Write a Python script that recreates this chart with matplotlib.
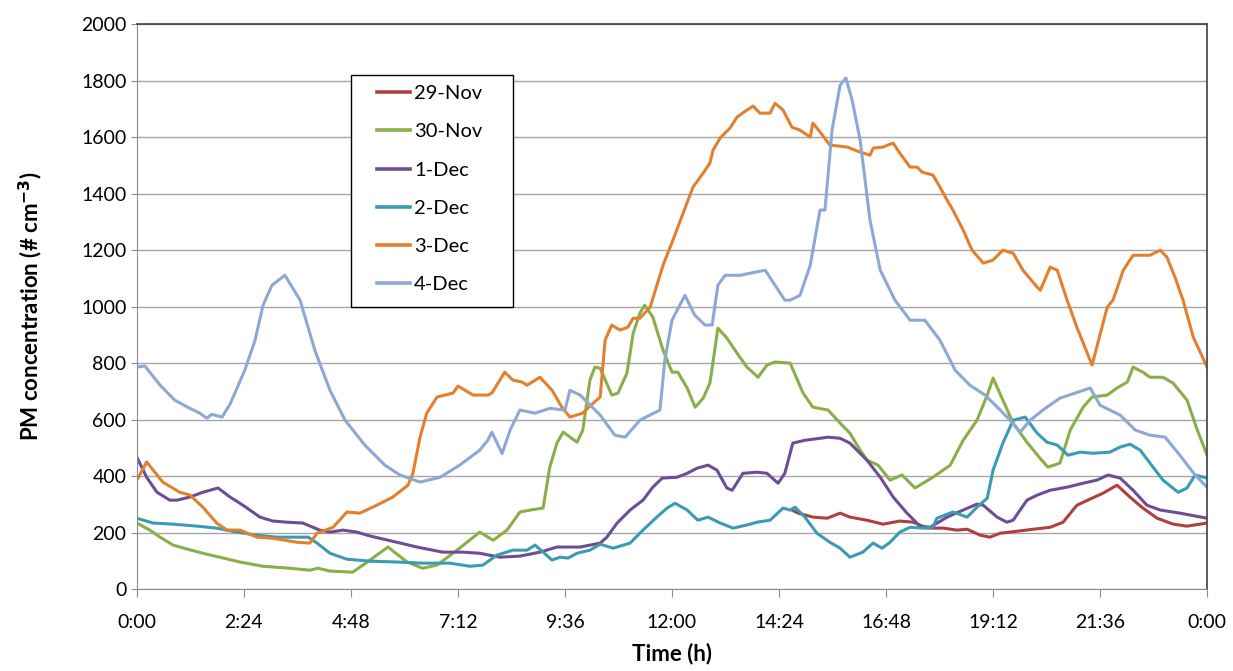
import matplotlib
matplotlib.use("Agg")
import matplotlib.pyplot as plt
from matplotlib.patches import Rectangle
from matplotlib.ticker import MultipleLocator

plt.rcParams['font.family'] = ['Lato', 'DejaVu Sans']

# time of day in hours, PM concentration in # cm-3
t_29nov = [14.69, 14.83, 15.16, 15.48, 15.77, 15.99, 16.37, 16.73, 17.11, 17.41, 17.72,
           18.08, 18.39, 18.62, 18.91, 19.13, 19.36, 19.74, 20.10, 20.48, 20.77, 21.08,
           21.38, 21.67, 21.98, 22.27, 22.56, 22.88, 23.24, 23.55, 24.00]
pm_29nov = [280, 269, 255, 251, 269, 255, 244, 230, 241, 237, 216,
            216, 209, 212, 191, 184, 198, 205, 212, 219, 237, 297,
            319, 340, 368, 326, 287, 251, 230, 223, 234]

t_30nov = [0.00, 0.29, 0.52, 0.81, 1.12, 1.48, 1.86, 2.31, 2.83, 3.43, 3.88, 4.06, 4.33,
           4.84, 5.23, 5.63, 6.06, 6.41, 6.73, 7.18, 7.69, 7.99, 8.30, 8.59, 8.82, 9.11,
           9.26, 9.42, 9.56, 9.87, 10.00, 10.16, 10.27, 10.39, 10.65, 10.79, 10.99, 11.13,
           11.28, 11.39, 11.57, 11.80, 12.00, 12.13, 12.34, 12.52, 12.70, 12.85, 13.03,
           13.23, 13.46, 13.68, 13.93, 14.13, 14.31, 14.65, 14.94, 15.16, 15.50, 15.77,
           15.99, 16.22, 16.37, 16.62, 16.89, 17.16, 17.45, 17.85, 18.24, 18.53, 18.84,
           19.07, 19.20, 19.42, 19.65, 19.96, 20.25, 20.43, 20.70, 20.93, 21.22, 21.42,
           21.76, 21.98, 22.21, 22.34, 22.56, 22.72, 23.01, 23.24, 23.55, 23.78, 24.00]
pm_30nov = [234, 209, 184, 156, 142, 127, 113, 96, 81, 74, 67, 74, 64,
            60, 103, 149, 96, 74, 85, 138, 202, 173, 209, 273, 280, 287,
            432, 517, 556, 520, 563, 740, 786, 782, 687, 694, 765, 906,
            977, 1005, 963, 846, 768, 768, 712, 644, 676, 729, 924,
            889, 835, 786, 750, 793, 804, 800, 694, 644, 634, 588,
            552, 492, 457, 439, 386, 404, 358, 396, 439, 527, 598,
            687, 747, 669, 588, 520, 464, 432, 446, 563, 644, 680,
            687, 712, 733, 786, 768, 750, 750, 729, 669, 563, 474]

t_1dec = [0.00, 0.22, 0.45, 0.74, 0.90, 1.19, 1.48, 1.82, 2.09, 2.38, 2.76, 3.05, 3.36,
          3.72, 4.10, 4.33, 4.62, 4.93, 5.23, 5.83, 6.28, 6.86, 7.31, 7.69, 8.14, 8.59,
          9.04, 9.42, 9.94, 10.39, 10.54, 10.77, 11.06, 11.35, 11.57, 11.78, 12.11, 12.34,
          12.56, 12.81, 13.01, 13.23, 13.35, 13.59, 13.91, 14.13, 14.38, 14.53, 14.71,
          14.98, 15.32, 15.50, 15.77, 15.99, 16.37, 16.67, 16.96, 17.27, 17.56, 17.79,
          18.17, 18.53, 18.84, 18.98, 19.29, 19.51, 19.65, 19.96, 20.19, 20.48, 20.86,
          21.22, 21.53, 21.78, 22.05, 22.34, 22.65, 22.95, 23.39, 24.00]
pm_1dec = [467, 396, 343, 315, 315, 326, 343, 358, 326, 297, 255, 241, 237,
           234, 209, 202, 209, 202, 188, 166, 149, 131, 131, 127, 113, 117,
           131, 149, 149, 163, 184, 234, 280, 315, 361, 393, 396, 410,
           428, 439, 421, 358, 350, 410, 414, 410, 375, 410, 517,
           527, 534, 538, 534, 517, 457, 396, 326, 269, 223, 219,
           255, 280, 301, 297, 255, 237, 244, 315, 333, 350, 361,
           375, 386, 404, 393, 350, 297, 280, 269, 251]

t_2dec = [0.00, 0.36, 0.81, 1.35, 1.79, 2.24, 2.69, 3.14, 3.59, 3.84, 4.04, 4.33, 4.71,
          5.23, 5.83, 6.41, 7.02, 7.47, 7.76, 8.07, 8.43, 8.75, 8.93, 9.31, 9.49, 9.67,
          9.87, 10.16, 10.39, 10.68, 11.06, 11.35, 11.66, 11.89, 12.07, 12.34, 12.58,
          12.81, 13.08, 13.37, 13.68, 13.91, 14.20, 14.49, 14.65, 14.76, 14.98, 15.25,
          15.54, 15.77, 15.99, 16.28, 16.51, 16.71, 16.89, 17.11, 17.34, 17.63, 17.85,
          17.94, 18.30, 18.62, 18.84, 19.07, 19.20, 19.42, 19.65, 19.92, 20.19, 20.41,
          20.64, 20.88, 21.15, 21.44, 21.82, 22.05, 22.27, 22.50, 22.72, 23.01, 23.35,
          23.55, 23.73, 24.00]
pm_2dec = [251, 234, 230, 223, 216, 202, 191, 184, 184, 184, 163, 127, 106,
           99, 96, 92, 92, 81, 85, 120, 138, 138, 156, 103, 113, 110,
           127, 138, 159, 145, 163, 209, 255, 287, 304, 280, 244,
           255, 234, 216, 227, 237, 244, 287, 280, 290, 255, 198,
           166, 145, 113, 131, 163, 145, 166, 202, 219, 216, 219,
           251, 273, 255, 290, 322, 421, 517, 598, 609, 552, 520,
           510, 474, 485, 481, 485, 503, 513, 492, 446, 386, 343,
           358, 404, 393]

t_3dec = [0.00, 0.22, 0.58, 0.96, 1.19, 1.48, 1.79, 2.02, 2.31, 2.69, 3.05, 3.59, 3.88,
          4.04, 4.40, 4.71, 5.00, 5.38, 5.74, 6.08, 6.19, 6.35, 6.50, 6.73, 7.09, 7.20,
          7.54, 7.87, 7.96, 8.25, 8.43, 8.64, 8.75, 9.04, 9.31, 9.53, 9.71, 10.00, 10.23,
          10.39, 10.50, 10.65, 10.83, 11.01, 11.13, 11.28, 11.51, 11.80, 12.02, 12.25,
          12.47, 12.70, 12.85, 12.92, 13.08, 13.30, 13.46, 13.68, 13.82, 13.97, 14.20,
          14.31, 14.49, 14.69, 14.87, 15.10, 15.16, 15.32, 15.54, 15.93, 16.22, 16.44,
          16.51, 16.73, 16.96, 17.11, 17.34, 17.50, 17.61, 17.85, 18.01, 18.17, 18.30,
          18.53, 18.73, 18.98, 19.20, 19.42, 19.65, 19.87, 20.19, 20.26, 20.48, 20.64,
          20.86, 21.08, 21.42, 21.76, 21.89, 22.12, 22.34, 22.72, 22.95, 23.10, 23.28,
          23.46, 23.69, 24.00]
pm_3dec = [386, 450, 379, 343, 333, 290, 234, 209, 209, 184, 180, 166, 163,
           198, 219, 273, 269, 297, 326, 368, 410, 538, 623, 680, 694, 719,
           687, 687, 694, 768, 740, 733, 722, 750, 704, 644, 609, 623, 658,
           680, 881, 935, 917, 927, 959, 959, 998, 1147, 1235, 1331,
           1423, 1473, 1508, 1554, 1597, 1632, 1671, 1696, 1710, 1685, 1685,
           1720, 1696, 1635, 1625, 1600, 1650, 1618, 1572, 1565, 1547, 1536,
           1561, 1565, 1579, 1543, 1494, 1494, 1476, 1466, 1423, 1377, 1342,
           1271, 1200, 1154, 1165, 1200, 1189, 1129, 1069, 1058, 1140, 1129,
           1023, 927, 793, 998, 1023, 1129, 1182, 1182, 1200, 1175, 1104,
           1023, 892, 786]

t_4dec = [0.00, 0.18, 0.52, 0.85, 1.19, 1.41, 1.57, 1.68, 1.91, 2.09, 2.42, 2.65, 2.83,
          3.03, 3.32, 3.66, 3.99, 4.33, 4.67, 5.11, 5.56, 5.90, 6.35, 6.80, 7.24, 7.69,
          7.87, 7.96, 8.19, 8.37, 8.59, 8.93, 9.26, 9.60, 9.71, 9.94, 10.39, 10.72, 10.95,
          11.28, 11.73, 11.84, 12.00, 12.29, 12.51, 12.74, 12.90, 13.03, 13.19, 13.52,
          14.09, 14.31, 14.53, 14.65, 14.87, 15.10, 15.32, 15.43, 15.59, 15.77, 15.90,
          16.04, 16.22, 16.44, 16.67, 17.00, 17.34, 17.67, 18.01, 18.35, 18.68, 19.02,
          19.36, 19.58, 19.81, 20.03, 20.37, 20.70, 21.38, 21.60, 22.05, 22.39, 22.72,
          23.06, 23.39, 23.73, 24.00]
pm_4dec = [786, 790, 722, 669, 640, 623, 605, 619, 609, 655, 775, 881, 1005,
           1076, 1111, 1023, 846, 704, 598, 510, 439, 404, 379, 396, 439, 492,
           527, 556, 480, 563, 634, 623, 640, 634, 704, 687, 616, 545, 538,
           598, 634, 811, 952, 1040, 970, 935, 935, 1076, 1111, 1111,
           1129, 1076, 1023, 1023, 1040, 1147, 1342, 1342, 1625, 1784, 1809,
           1731, 1589, 1306, 1129, 1023, 952, 952, 881, 775, 722, 687,
           634, 598, 556, 598, 640, 676, 712, 651, 616, 563, 545,
           538, 474, 404, 361]

series = [
    ("29-Nov", t_29nov, pm_29nov, "#B0403E"),
    ("30-Nov", t_30nov, pm_30nov, "#8AAE48"),
    ("1-Dec", t_1dec, pm_1dec, "#6D4E94"),
    ("2-Dec", t_2dec, pm_2dec, "#3A9BB4"),
    ("3-Dec", t_3dec, pm_3dec, "#E3802F"),
    ("4-Dec", t_4dec, pm_4dec, "#8EA8D6"),
]
tick_labels = ["0:00", "2:24", "4:48", "7:12", "9:36", "12:00",
               "14:24", "16:48", "19:12", "21:36", "0:00"]

fig = plt.figure(figsize=(12.33, 6.71), dpi=100)
ax = fig.add_axes([0.111, 0.122, 0.868, 0.842])

for label, t, pm, c in series:
    ax.plot(t, pm, color=c, lw=2.2, label=label, solid_joinstyle="round", zorder=2)

ax.set_xlim(0, 24)
ax.set_ylim(0, 2000)
ax.set_xticks([i * 2.4 for i in range(11)])
ax.set_xticklabels(tick_labels)
ax.yaxis.set_major_locator(MultipleLocator(200))
ax.grid(axis="y", color="#A6A6A6", lw=1.0)
ax.set_axisbelow(True)

for s in ["left", "bottom"]:
    ax.spines[s].set_color("#8C8C8C")
for s in ["top", "right"]:
    ax.spines[s].set_color("#404040")
    ax.spines[s].set_linewidth(1.2)

ax.tick_params(axis="x", direction="out", length=6, color="#8C8C8C", pad=12, labelsize=14)
ax.tick_params(axis="y", direction="out", length=4, color="#8C8C8C", labelsize=14)

ax.set_xlabel("Time (h)", fontsize=16, fontweight="bold", labelpad=8)
ax.set_ylabel("PM concentration (# cm$^{\\mathbf{-3}}$)", fontsize=16,
              fontweight="bold", labelpad=26)

# legend box (white, thin black border) with the entries placed inside it
ax.add_patch(Rectangle((0.200, 0.499), 0.1514, 0.4106, transform=ax.transAxes,
                       facecolor="white", edgecolor="black", lw=1.0, zorder=3))
leg = ax.legend(loc="upper left", bbox_to_anchor=(0.2243, 0.892), fontsize=14.5,
                frameon=False, handlelength=1.64, handletextpad=0.2,
                labelspacing=1.045, borderpad=0, borderaxespad=0)
leg.set_zorder(5)
for h in leg.get_lines():
    h.set_linewidth(2.6)

fig.savefig("out.png", dpi=100)
